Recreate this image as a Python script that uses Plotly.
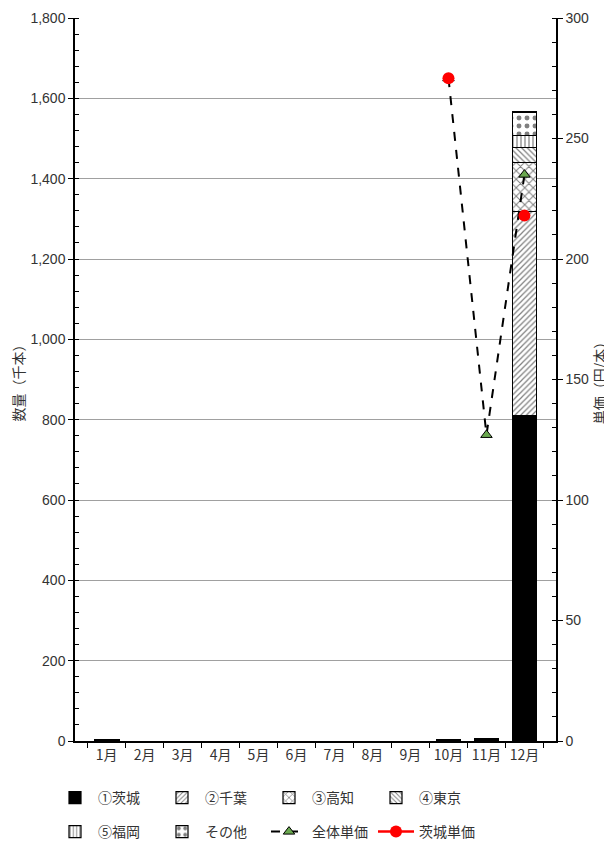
import plotly.graph_objects as go

months = ["1月", "2月", "3月", "4月", "5月", "6月", "7月", "8月", "9月", "10月", "11月", "12月"]

ibaraki = [3, None, None, None, None, None, None, None, None, 3, 5, 810]
chiba =   [None, None, None, None, None, None, None, None, None, None, None, 509]
kochi =   [None, None, None, None, None, None, None, None, None, None, None, 122]
tokyo =   [None, None, None, None, None, None, None, None, None, None, None, 37]
fukuoka = [None, None, None, None, None, None, None, None, None, None, None, 30]
others =  [None, None, None, None, None, None, None, None, None, None, None, 58]

price_all =     [None, None, None, None, None, None, None, None, None, 275, 127, 235]
price_ibaraki = [None, None, None, None, None, None, None, None, None, 275, None, 218]

FONT = "Noto Sans CJK JP"
NUMFONT = "Liberation Sans"
TXT = "#333333"

# page has an 8px body margin; figure is sized to fit the 612x850 window
W, H = 604, 842

fig = go.Figure()

bar_specs = [
    ("①茨城", ibaraki, "", "black", 4, "legend"),
    ("②千葉", chiba, "/", "white", 4, "legend"),
    ("③高知", kochi, "x", "white", 6, "legend"),
    ("④東京", tokyo, "\\", "white", 4, "legend"),
    ("⑤福岡", fukuoka, "|", "white", 4, "legend2"),
    ("その他", others, ".", "white", 8, "legend2"),
]
for name, vals, shape, bg, sz, lg in bar_specs:
    pattern = dict(shape=shape, fgcolor="black", bgcolor=bg, size=sz, solidity=0.3) if shape else None
    fig.add_trace(go.Bar(
        x=months, y=vals, name=name, width=0.65,
        marker=dict(color=bg if shape else "black", pattern=pattern,
                    line=dict(color="black", width=1.2)),
        yaxis="y", legend=lg,
    ))

fig.add_trace(go.Scatter(
    x=months, y=price_all, name="全体単価", mode="lines+markers",
    line=dict(color="black", width=2, dash="dash"),
    marker=dict(symbol="triangle-up", size=10, color="#6aa84f", line=dict(color="black", width=1)),
    yaxis="y2", connectgaps=True, legend="legend2",
))
fig.add_trace(go.Scatter(
    x=months, y=price_ibaraki, name="茨城単価", mode="lines+markers",
    line=dict(color="red", width=2.5),
    marker=dict(symbol="circle", size=12, color="red"),
    yaxis="y2", connectgaps=False, legend="legend2",
))

legend_common = dict(orientation="h", xref="container", x=44 / W, xanchor="left",
                     yref="container", yanchor="middle",
                     entrywidth=56, entrywidthmode="pixels",
                     font=dict(family=FONT, size=14, color=TXT),
                     itemwidth=36, tracegroupgap=0, traceorder="normal")

fig.update_layout(
    width=W, height=H,
    margin=dict(l=67, r=56, t=10, b=109, autoexpand=False),
    paper_bgcolor="white", plot_bgcolor="white",
    barmode="stack",
    font=dict(family=FONT, size=14, color=TXT),
    showlegend=True,
    legend=dict(legend_common, y=1 - 790 / H),
    legend2=dict(legend_common, y=1 - 824 / H),
    xaxis=dict(
        type="category", categoryorder="array", categoryarray=months,
        showline=True, linecolor="black", linewidth=1.5, mirror=False,
        ticks="outside", ticklen=5, tickcolor="black", tickson="boundaries",
        showgrid=False, tickfont=dict(size=14, color=TXT), tickangle=0,
        automargin=False,
    ),
    yaxis=dict(
        range=[0, 1800], dtick=200, tickformat=",d",
        showline=True, linecolor="black", linewidth=1.5,
        ticks="outside", ticklen=5, tickcolor="black",
        showgrid=True, gridcolor="#a0a0a0", gridwidth=1,
        minor=dict(dtick=40, ticks="inside", ticklen=4, tickcolor="black", showgrid=False),
        zeroline=False, automargin=False, ticklabeloverflow="allow",
        title=dict(text="数量（千本）", font=dict(size=14, color=TXT), standoff=12),
        tickfont=dict(family=NUMFONT, size=14, color=TXT),
    ),
    yaxis2=dict(
        range=[0, 300], dtick=50, overlaying="y", side="right",
        showline=True, linecolor="black", linewidth=1.5,
        ticks="outside", ticklen=5, tickcolor="black",
        showgrid=False, zeroline=False, automargin=False, ticklabeloverflow="allow",
        minor=dict(dtick=10, ticks="inside", ticklen=4, tickcolor="black", showgrid=False),
        title=dict(text="単価（円/本）", font=dict(size=14, color=TXT), standoff=4),
        tickfont=dict(family=NUMFONT, size=14, color=TXT),
    ),
)

fig.write_html("out.html")
